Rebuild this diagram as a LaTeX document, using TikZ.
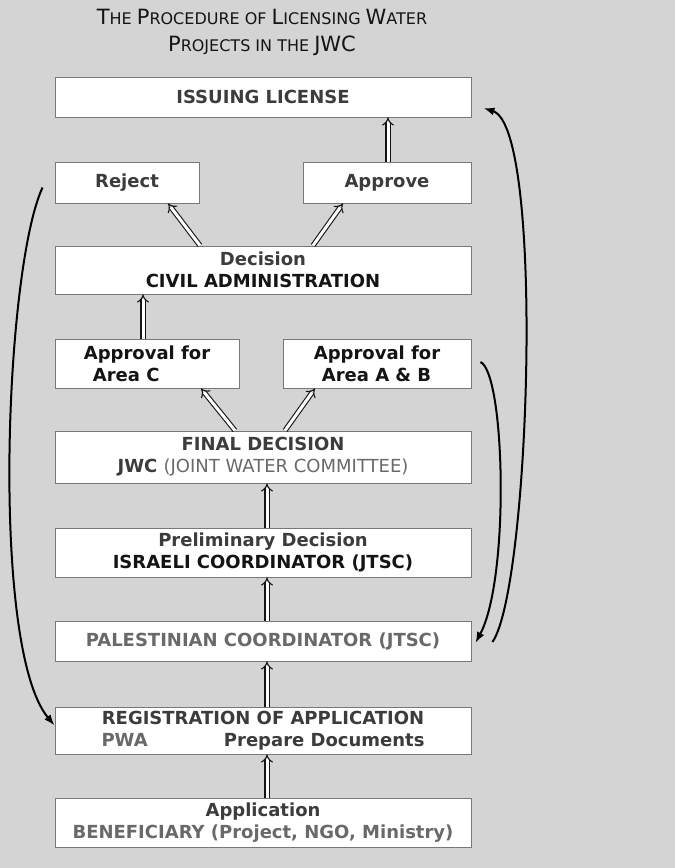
\documentclass[tikz,border=0pt]{standalone}
\usepackage{fontspec}
\setmainfont{DejaVu Sans}
\usepackage{xcolor}
\usepackage{tikz}
\usetikzlibrary{arrows.meta, positioning, calc}

\definecolor{bg}{RGB}{212,212,212}
\definecolor{txtdark}{RGB}{20,20,20}
\definecolor{txtgray}{RGB}{60,60,60}
\definecolor{txtlight}{RGB}{105,105,105}
\definecolor{boxline}{RGB}{120,120,120}
\newcommand{\bigc}[1]{{\fontsize{21}{24}\selectfont #1}}

\begin{document}
\begin{tikzpicture}[x=1pt, y=1pt,
    box/.style={draw=boxline, line width=0.9pt, fill=white, inner sep=0pt,
      font=\fontsize{18}{22}\selectfont\bfseries, text=txtdark, align=center},
    dbl/.style={double, double distance=3pt, line width=1.1pt, draw=txtdark, -{Implies}},
    back/.style={line width=2pt, draw=black, -{Latex[length=11pt,width=8pt]}}]
  \useasboundingbox[fill=bg] (0,0) rectangle (675,868);

  % title
  \node[font=\fontsize{16}{27}\selectfont, text=txtdark, align=center] (title) at (262,836)
    {\bigc{T}HE \bigc{P}ROCEDURE OF \bigc{L}ICENSING \bigc{W}ATER\\
     \bigc{P}ROJECTS IN THE \bigc{JWC}};

  % boxes, top to bottom
  \node[box, minimum width=416pt, minimum height=40pt] (lic) at (263,771) {\color{txtgray}ISSUING LICENSE};
  \node[box, minimum width=144pt, minimum height=41pt] (reject) at (127,685.5) {\color{txtgray}Reject};
  \node[box, minimum width=168pt, minimum height=41pt] (approve) at (387,685.5) {\color{txtgray}Approve};
  \node[box, minimum width=416pt, minimum height=48pt] (dec) at (263,598)
    {\color{txtgray}Decision\\CIVIL ADMINISTRATION};
  \node[box, align=left, minimum width=184pt, minimum height=49pt] (areaC) at (147,504.5)
    {Approval for\\\hspace*{9pt}Area C};
  \node[box, align=left, minimum width=188pt, minimum height=49pt] (areaAB) at (377,504.5)
    {Approval for\\\hspace*{8pt}Area A \& B};
  \node[box, minimum width=416pt, minimum height=52pt] (fd) at (263,411)
    {\color{txtgray}FINAL DECISION\\
     {\color{txtgray}JWC} {\color{txtlight}\mdseries (JOINT WATER COMMITTEE)}};
  \node[box, minimum width=416pt, minimum height=49pt] (pre) at (263,315.5)
    {\color{txtgray}Preliminary Decision\\ISRAELI COORDINATOR (JTSC)};
  \node[box, minimum width=416pt, minimum height=40pt] (pal) at (263,227)
    {\color{txtlight}PALESTINIAN COORDINATOR (JTSC)};
  \node[box, minimum width=416pt, minimum height=47pt] (reg) at (263,137.5)
    {\color{txtgray}REGISTRATION OF APPLICATION\\
     \hbox to 323pt{\color{txtlight}PWA\hfill\color{txtgray}Prepare Documents}};
  \node[box, minimum width=416pt, minimum height=49pt] (app) at (263,45.5)
    {\color{txtgray}Application\\\color{txtlight}BENEFICIARY (Project, NGO, Ministry)};

  % straight double arrows
  \draw[dbl] ([xshift=4pt]app.north) -- ([xshift=4pt]reg.south);
  \draw[dbl] ([xshift=4pt]reg.north) -- ([xshift=4pt]pal.south);
  \draw[dbl] ([xshift=4pt]pal.north) -- ([xshift=4pt]pre.south);
  \draw[dbl] ([xshift=4pt]pre.north) -- ([xshift=4pt]fd.south);
  \draw[dbl] ([xshift=-28pt]fd.north) -- ([xshift=54pt]areaC.south);
  \draw[dbl] ([xshift=22pt]fd.north) -- ([xshift=-62pt]areaAB.south);
  \draw[dbl] ([xshift=-4pt]areaC.north) -- ([xshift=-4pt]areaC.north |- dec.south);
  \draw[dbl] ([xshift=-63pt]dec.north) -- ([xshift=41pt]reject.south);
  \draw[dbl] ([xshift=50pt]dec.north) -- ([xshift=-44pt]approve.south);
  \draw[dbl] ([xshift=1pt]approve.north) -- ([xshift=1pt]approve.north |- lic.south);

  % curved return arrows
  \draw[back] ([xshift=-12pt,yshift=-5pt]reject.west) .. controls (5,600) and (-10,220) .. ([yshift=5pt]reg.west);
  \draw[back] ([xshift=9pt,yshift=1.5pt]areaAB.east) .. controls (505,495) and (510,290) .. ([xshift=4pt,yshift=-2pt]pal.east);
  \draw[back] ([xshift=21pt,yshift=-1pt]pal.east) .. controls (530,280) and (545,740) .. ([xshift=12pt,yshift=-11pt]lic.east);
\end{tikzpicture}
\end{document}
